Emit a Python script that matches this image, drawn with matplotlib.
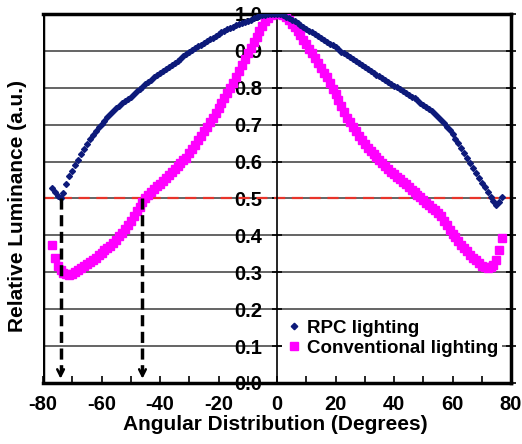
import numpy as np
import matplotlib
matplotlib.use('Agg')
import matplotlib.pyplot as plt
from matplotlib.ticker import MultipleLocator, FormatStrFormatter

plt.rcParams['font.family'] = ['Liberation Sans', 'DejaVu Sans']
plt.rcParams['font.weight'] = 'bold'
plt.rcParams['axes.unicode_minus'] = False

# RPC lighting, -77 .. 77 deg, step 1
rpc_angle = list(range(-77, 78))
rpc_lum = [
    0.528, 0.518, 0.508, 0.500, 0.515, 0.540, 0.560, 0.575, 0.590, 0.605,
    0.620, 0.635, 0.648, 0.660, 0.672, 0.683, 0.695, 0.703, 0.711, 0.720,
    0.728, 0.737, 0.745, 0.752, 0.758, 0.764, 0.770, 0.776, 0.783, 0.790,
    0.797, 0.803, 0.809, 0.815, 0.821, 0.828, 0.834, 0.839, 0.845, 0.851,
    0.856, 0.862, 0.867, 0.873, 0.879, 0.885, 0.891, 0.897, 0.902, 0.907,
    0.912, 0.917, 0.922, 0.926, 0.931, 0.936, 0.941, 0.945, 0.950, 0.954,
    0.958, 0.962, 0.965, 0.969, 0.973, 0.976, 0.979, 0.982, 0.985, 0.988,
    0.991, 0.994, 0.996, 0.998, 0.999, 1.000, 1.000, 1.000, 0.999, 0.997,
    0.993, 0.989, 0.985, 0.980, 0.975, 0.970, 0.965, 0.960, 0.955, 0.950,
    0.945, 0.940, 0.935, 0.930, 0.925, 0.920, 0.915, 0.910, 0.904, 0.898,
    0.893, 0.888, 0.883, 0.878, 0.872, 0.867, 0.862, 0.857, 0.851, 0.846,
    0.841, 0.836, 0.831, 0.826, 0.821, 0.815, 0.810, 0.806, 0.801, 0.796,
    0.791, 0.786, 0.781, 0.776, 0.771, 0.766, 0.760, 0.754, 0.748, 0.742,
    0.736, 0.730, 0.722, 0.714, 0.705, 0.695, 0.685, 0.674, 0.662, 0.650,
    0.637, 0.624, 0.610, 0.596, 0.582, 0.568, 0.555, 0.542, 0.530, 0.518,
    0.505, 0.493, 0.483, 0.490, 0.505,
]

# Conventional lighting, -77 .. 77 deg, step 1
conv_angle = list(range(-77, 78))
conv_lum = [
    0.375, 0.340, 0.318, 0.305, 0.298, 0.295, 0.294, 0.296, 0.300, 0.305,
    0.311, 0.317, 0.322, 0.328, 0.333, 0.340, 0.347, 0.353, 0.360, 0.366,
    0.372, 0.379, 0.388, 0.397, 0.406, 0.416, 0.427, 0.439, 0.452, 0.465,
    0.478, 0.490, 0.500, 0.509, 0.517, 0.525, 0.533, 0.540, 0.548, 0.555,
    0.563, 0.571, 0.579, 0.587, 0.595, 0.603, 0.611, 0.622, 0.634, 0.646,
    0.658, 0.670, 0.682, 0.694, 0.706, 0.719, 0.732, 0.746, 0.759, 0.772,
    0.786, 0.799, 0.813, 0.829, 0.845, 0.861, 0.877, 0.893, 0.908, 0.923,
    0.938, 0.953, 0.967, 0.980, 0.990, 0.996, 0.999, 1.000, 1.000, 0.998,
    0.992, 0.983, 0.974, 0.964, 0.953, 0.942, 0.930, 0.918, 0.905, 0.893,
    0.880, 0.867, 0.854, 0.841, 0.829, 0.814, 0.798, 0.782, 0.766, 0.750,
    0.734, 0.719, 0.706, 0.694, 0.682, 0.670, 0.659, 0.648, 0.638, 0.629,
    0.620, 0.612, 0.604, 0.596, 0.588, 0.580, 0.573, 0.566, 0.559, 0.552,
    0.545, 0.538, 0.531, 0.524, 0.517, 0.510, 0.503, 0.496, 0.489, 0.482,
    0.475, 0.469, 0.462, 0.452, 0.440, 0.427, 0.415, 0.405, 0.395, 0.385,
    0.375, 0.366, 0.357, 0.348, 0.340, 0.332, 0.324, 0.318, 0.313, 0.311,
    0.313, 0.320, 0.333, 0.360, 0.393,
]

half_level = 0.5
cutoff_angles = [-74, -46]   # where each curve crosses 0.5 on the left

fig = plt.figure(figsize=(5.22, 4.44), dpi=100)
ax = fig.add_axes([0.0824, 0.1374, 0.8966, 0.8311])

ax.set_xlim(-80, 80)
ax.set_ylim(0, 1.0)

# grid
for yv in np.arange(0.1, 1.0, 0.1):
    ax.axhline(yv, color='#3a3a3a', lw=1.1, zorder=1)
ax.axhline(half_level, color='#e8342a', lw=1.6, ls=(0, (5, 3)), zorder=2)
ax.axvline(-80, color='black', lw=2.5, zorder=5)

ax.plot(rpc_angle, rpc_lum, ls='none', marker='D', ms=3.0, color='#0d1a7a',
        label='RPC lighting', zorder=4)
ax.plot(conv_angle, conv_lum, ls='none', marker='s', ms=5.2, color='#ff00ff',
        label='Conventional lighting', zorder=3)

for a in cutoff_angles:
    ax.plot([a, a], [half_level, 0.03], color='black', lw=2.5,
            ls=(0, (3.2, 1.6)), zorder=6)
    ax.annotate('', xy=(a, 0.004), xytext=(a, 0.04),
                arrowprops=dict(arrowstyle='->', color='black', lw=1.8,
                                mutation_scale=12), zorder=6)

# spines
ax.spines['left'].set_position(('data', 0))
ax.spines['left'].set_linewidth(1.2)
for s in ['top', 'bottom', 'right']:
    ax.spines[s].set_linewidth(2.5)

ax.xaxis.set_major_locator(MultipleLocator(20))
ax.xaxis.set_minor_locator(MultipleLocator(10))
ax.yaxis.set_major_locator(MultipleLocator(0.1))
ax.tick_params(axis='x', which='both', direction='in', length=5, width=1.2,
               labelsize=14.5, pad=8.5)
ax.tick_params(axis='y', direction='inout', length=7, width=1.2,
               labelsize=14.5, right=True, pad=7)
ax.yaxis.set_major_formatter(FormatStrFormatter('%.1f'))
for lab in ax.get_xticklabels() + ax.get_yticklabels():
    lab.set_fontweight('bold')

fig.text(0.527, 0.045, 'Angular Distribution (Degrees)', fontsize=15,
         fontweight='bold', ha='center', va='center')
fig.text(0.033, 0.536, 'Relative Luminance (a.u.)', rotation=90, fontsize=15,
         fontweight='bold', ha='center', va='center')

leg = ax.legend(loc='lower right', bbox_to_anchor=(1.0, 0.035), frameon=True,
                fontsize=13.5, handletextpad=0.3, borderpad=0.2,
                labelspacing=0.15, handlelength=0.8, markerscale=1.1)
leg.get_frame().set_edgecolor('none')
leg.get_frame().set_facecolor('white')
leg.get_frame().set_alpha(1)
leg.set_zorder(7)

fig.savefig('out.png', dpi=100)
